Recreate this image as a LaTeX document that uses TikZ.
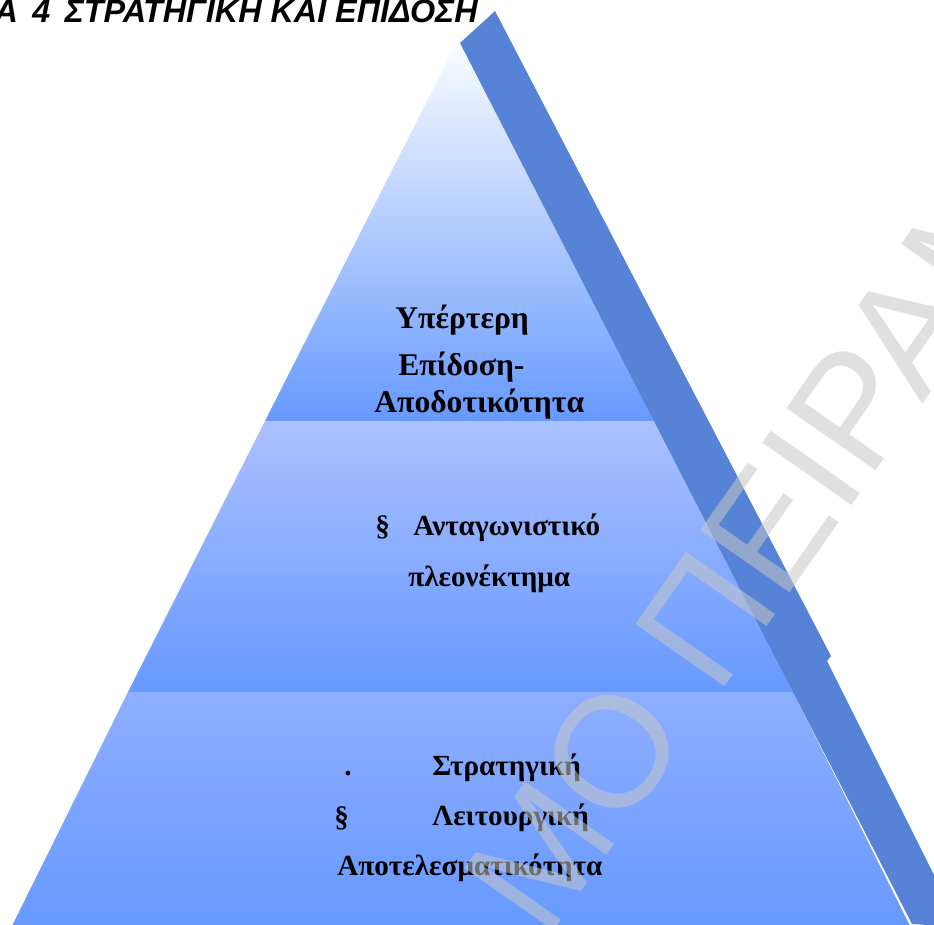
\documentclass[tikz,border=0pt]{standalone}
\usepackage{fontspec}
\setmainfont{Liberation Serif}
\newfontfamily\headfont{Liberation Sans}
\definecolor{tierblue}{RGB}{102, 153, 255}
\definecolor{tiertop}{RGB}{218, 227, 255}
\definecolor{midtop}{RGB}{172, 192, 255}
\definecolor{lowtop}{RGB}{142, 174, 255}
\definecolor{bandblue}{RGB}{86, 131, 214}
\definecolor{markgray}{RGB}{199, 199, 199}
\usetikzlibrary{positioning}

\tikzset{
  tiertext/.style={font=\bfseries\fontsize{16.6}{20}\selectfont, inner sep=0pt, anchor=base west},
  toptext/.style={tiertext, font=\bfseries\fontsize{18}{21}\selectfont}
}

\begin{document}
\begin{tikzpicture}[x=0.02cm, y=-0.02cm]
  \useasboundingbox (0,0) rectangle (934,924);
  \clip (0,0) rectangle (934,924);

  % Title
  \node[font=\headfont\bfseries\itshape\fontsize{18.4}{22}\selectfont, anchor=base east, inner sep=0pt] (title) at (478,22) {Α\, 4\, ΣΤΡΑΤΗΓΙΚΗ ΚΑΙ ΕΠΙΔΟΣΗ};

  % Three tiers of the pyramid
  \shade[top color=white, middle color=tiertop, bottom color=tierblue] (462,32) -- (658,421) -- (265,421) -- cycle;
  \shade[top color=midtop, bottom color=tierblue] (265,421) -- (658,421) -- (793,692) -- (128,692) -- cycle;
  \shade[top color=lowtop, bottom color=tierblue] (128,692) -- (793,692) -- (912,930) -- (10,930) -- cycle;

  % Side band
  \fill[bandblue] (460,43) -- (495,11) -- (831,656) -- (827,661) -- (960,927) -- (912,924) -- cycle;

  % Top tier
  \node[toptext] (top1) at (395,328) {Υπέρτερη};
  \node[toptext] (top2) at (398,375) {Επίδοση-};
  \node[toptext] (top3) at (374,412) {Αποδοτικότητα};

  % Middle tier
  \node[tiertext] (mid0) at (375,535) {§};
  \node[tiertext] (mid1) at (413,535) {Ανταγωνιστικό};
  \node[tiertext] (mid2) at (408,586) {πλεονέκτημα};

  % Bottom tier
  \node[tiertext] (low0) at (344,775) {.};
  \node[tiertext] (low1) at (432,775) {Στρατηγική};
  \node[tiertext] (low2) at (334,826) {§};
  \node[tiertext] (low3) at (432,825) {Λειτουργική};
  \node[tiertext] (low4) at (337,875) {Αποτελεσματικότητα};

  % Watermark
  \node[font=\headfont\fontsize{90}{94}\selectfont, text=markgray, opacity=0.55, rotate=55, anchor=base west, inner sep=0pt] (mark) at (546,942) {ΜΟ ΠΕΙΡΑΜ};
\end{tikzpicture}
\end{document}
